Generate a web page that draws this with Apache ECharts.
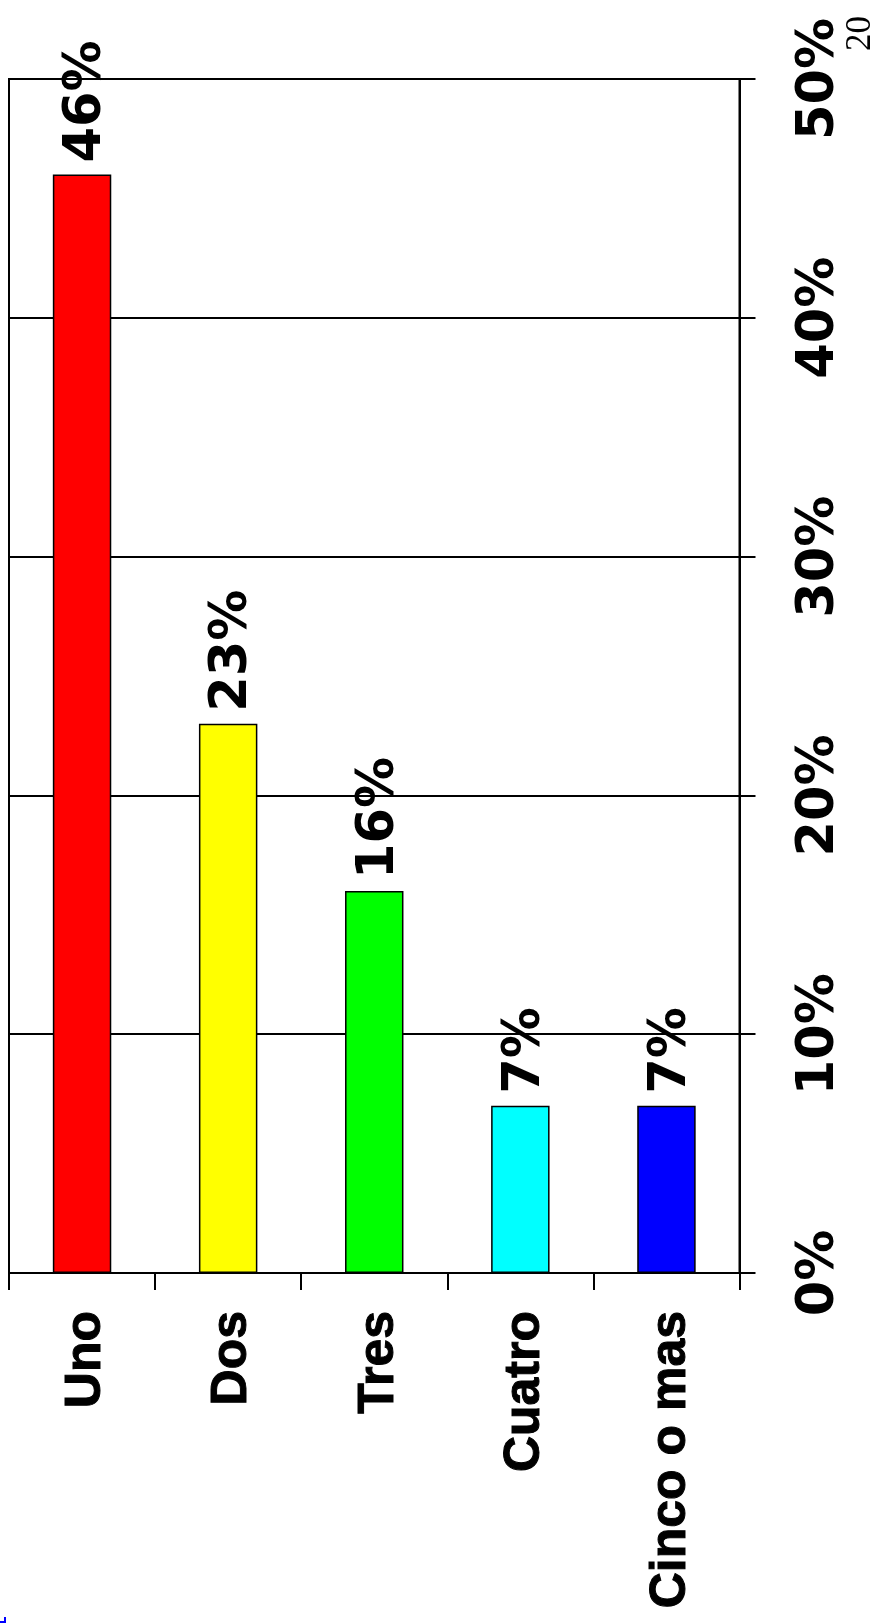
<!DOCTYPE html>
<html>
<head>
<meta charset="utf-8">
<script src="https://cdn.jsdelivr.net/npm/echarts@6/dist/echarts.min.js"></script>
<style>
html,body{margin:0;padding:0;background:#fff;}
#chart{width:873px;height:1624px;}
</style>
</head>
<body>
<div id="chart"></div>
<script>
const categories = ['Uno', 'Dos', 'Tres', 'Cuatro', 'Cinco o mas'];
const values = [46, 23, 16, 7, 7];
const barColors = ['#FF0000', '#FFFF00', '#00FF00', '#00FFFF', '#0000FF'];
const valueTicks = [0, 10, 20, 30, 40, 50];
const pageNumber = '20';

const chart = echarts.init(document.getElementById('chart'), null, {renderer: 'canvas'});
chart.setOption({
  animation: false,
  backgroundColor: '#ffffff',
  grid: {
    left: 9, right: 133.5, top: 79, bottom: 351,
    show: true, borderColor: '#000', borderWidth: 2, backgroundColor: 'transparent'
  },
  xAxis: {
    type: 'category',
    data: categories,
    boundaryGap: true,
    axisLine: {show: true, lineStyle: {color: '#000', width: 2}},
    axisTick: {show: true, alignWithLabel: false, length: 17, lineStyle: {color: '#000', width: 2}},
    axisLabel: {
      rotate: 90, margin: 38, interval: 0,
      verticalAlign: 'top', lineHeight: 9,
      fontFamily: 'Liberation Sans', fontWeight: 'bold', fontSize: 50, color: '#000',
      textBorderColor: '#000', textBorderWidth: 1
    },
    splitLine: {show: false}
  },
  yAxis: {
    type: 'value',
    position: 'right',
    min: valueTicks[0], max: valueTicks[valueTicks.length - 1], interval: 10,
    axisLine: {show: true, lineStyle: {color: '#000', width: 2}},
    axisTick: {show: true, length: 16, lineStyle: {color: '#000', width: 2}},
    splitLine: {show: true, lineStyle: {color: '#000', width: 2}},
    axisLabel: {
      rotate: 90, margin: 55,
      formatter: '{value}%',
      fontFamily: 'DejaVu Sans', fontWeight: 'bold', fontSize: 51, color: '#000'
    }
  },
  series: [{
    type: 'bar',
    data: values.map((v, i) => ({value: v, itemStyle: {color: barColors[i]}})),
    barWidth: '40%',
    itemStyle: {borderColor: '#000', borderWidth: 1.5},
    label: {
      show: true, position: 'top', distance: 12, rotate: 90,
      align: 'left', verticalAlign: 'top', lineHeight: 10,
      formatter: '{c}%',
      fontFamily: 'DejaVu Sans', fontWeight: 'bold', fontSize: 51, color: '#000'
    }
  }],
  graphic: [
    {
      type: 'text', left: 843, top: 16, rotation: Math.PI / 2,
      style: {text: pageNumber, font: '35px "Liberation Serif"', fill: '#000'}
    },
    {
      type: 'polyline',
      shape: {points: [[0, 1622], [5, 1622], [5, 1617]]},
      style: {stroke: '#0000FF', lineWidth: 2, fill: null}
    }
  ]
});
</script>
</body>
</html>
